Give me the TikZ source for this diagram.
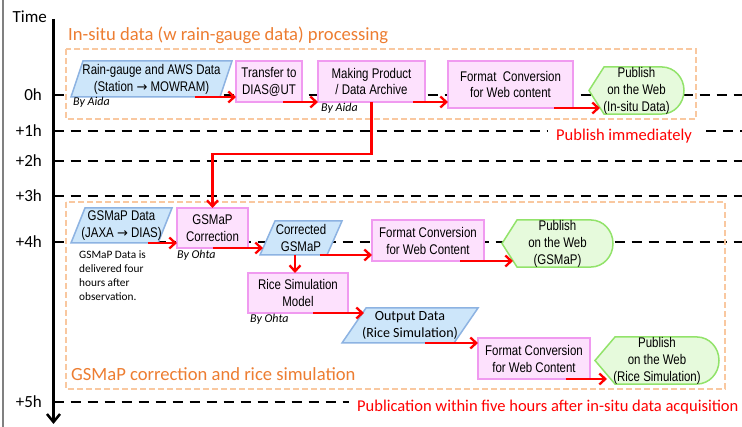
\documentclass[tikz,border=0pt]{standalone}
\usepackage{fontspec}
\setmainfont{Carlito}
\newfontfamily\narrow[FakeStretch=0.82]{Liberation Sans}
\newfontfamily\symfont{DejaVu Sans}
\usetikzlibrary{arrows.meta,calc}

\definecolor{parafill}{HTML}{CDE6FA}
\definecolor{paraline}{HTML}{8DB3E2}
\definecolor{procfill}{HTML}{FDE1FD}
\definecolor{procline}{HTML}{F09AF0}
\definecolor{pubfill}{HTML}{E6FADC}
\definecolor{publine}{HTML}{92E36A}
\definecolor{grpline}{HTML}{F9C8A0}
\definecolor{grptext}{HTML}{ED7D31}
\definecolor{framegray}{HTML}{808080}

\newcommand{\towards}{{\symfont\fontsize{13}{17}\selectfont →}}

% Shapes: a slanted data box and a "display" box (pointed left, rounded right)
\makeatletter
\newdimen\shpxa \newdimen\shpya \newdimen\shpxb \newdimen\shpyb
\newdimen\shpym \newdimen\shphh \newdimen\shpsl \newdimen\shprr
\pgfkeys{/pgf/para slant/.initial=12pt,/pgf/disp tip/.initial=15pt,/pgf/disp round/.initial=22pt}
\pgfdeclareshape{parabox}{%
  \inheritsavedanchors[from=rectangle]%
  \inheritanchorborder[from=rectangle]%
  \inheritanchor[from=rectangle]{center}%
  \inheritanchor[from=rectangle]{north}%
  \inheritanchor[from=rectangle]{south}%
  \inheritanchor[from=rectangle]{east}%
  \inheritanchor[from=rectangle]{west}%
  \inheritanchor[from=rectangle]{north east}%
  \inheritanchor[from=rectangle]{north west}%
  \inheritanchor[from=rectangle]{south east}%
  \inheritanchor[from=rectangle]{south west}%
  \backgroundpath{%
    \southwest \shpxa=\pgf@x \shpya=\pgf@y
    \northeast \shpxb=\pgf@x \shpyb=\pgf@y
    \pgfmathsetlength\shpsl{\pgfkeysvalueof{/pgf/para slant}}%
    \pgfpathmoveto{\pgfqpoint{\shpxa}{\shpya}}%
    \pgfpathlineto{\pgfpoint{\shpxb-\shpsl}{\shpya}}%
    \pgfpathlineto{\pgfqpoint{\shpxb}{\shpyb}}%
    \pgfpathlineto{\pgfpoint{\shpxa+\shpsl}{\shpyb}}%
    \pgfpathclose
  }%
}
\pgfdeclareshape{webdisplay}{%
  \inheritsavedanchors[from=rectangle]%
  \inheritanchorborder[from=rectangle]%
  \inheritanchor[from=rectangle]{center}%
  \inheritanchor[from=rectangle]{north}%
  \inheritanchor[from=rectangle]{south}%
  \inheritanchor[from=rectangle]{east}%
  \inheritanchor[from=rectangle]{west}%
  \inheritanchor[from=rectangle]{north east}%
  \inheritanchor[from=rectangle]{north west}%
  \inheritanchor[from=rectangle]{south east}%
  \inheritanchor[from=rectangle]{south west}%
  \backgroundpath{%
    \southwest \shpxa=\pgf@x \shpya=\pgf@y
    \northeast \shpxb=\pgf@x \shpyb=\pgf@y
    \shphh=\shpyb \advance\shphh by -\shpya \shphh=.5\shphh
    \shpym=\shpya \advance\shpym by \shphh
    \pgfmathsetlength\shpsl{\pgfkeysvalueof{/pgf/disp tip}}%
    \pgfmathsetlength\shprr{\pgfkeysvalueof{/pgf/disp round}}%
    \pgfpathmoveto{\pgfqpoint{\shpxa}{\shpym}}%
    \pgfpathlineto{\pgfpoint{\shpxa+\shpsl}{\shpyb}}%
    \pgfpathlineto{\pgfpoint{\shpxb-\shprr}{\shpyb}}%
    \pgfpathcurveto{\pgfpoint{\shpxb-0.4477*\shprr}{\shpyb}}{\pgfpoint{\shpxb}{\shpym+0.5523*\shphh}}{\pgfqpoint{\shpxb}{\shpym}}%
    \pgfpathcurveto{\pgfpoint{\shpxb}{\shpym-0.5523*\shphh}}{\pgfpoint{\shpxb-0.4477*\shprr}{\shpya}}{\pgfpoint{\shpxb-\shprr}{\shpya}}%
    \pgfpathlineto{\pgfpoint{\shpxa+\shpsl}{\shpya}}%
    \pgfpathclose
  }%
}
\makeatother

\tikzset{
  boxbase/.style={inner sep=0pt, outer sep=0pt, align=center, line width=1.5pt,
    font=\narrow\fontsize{14}{17}\selectfont},
  proc/.style={boxbase, rectangle, draw=procline, fill=procfill},
  datain/.style={boxbase, shape=parabox, draw=paraline, fill=parafill},
  pub/.style={boxbase, shape=webdisplay, draw=publine, fill=pubfill},
  flow/.style={draw=red, line width=2.3pt, -{Straight Barb[length=6pt,width=11pt]}},
  hourline/.style={line width=2pt, dash pattern=on 10pt off 7pt},
  group/.style={draw=grpline, line width=1.5pt, dash pattern=on 6pt off 3pt},
  grouptitle/.style={text=grptext, font=\fontsize{18.6}{21}\selectfont, inner sep=0pt, anchor=base west},
  author/.style={font=\itshape\fontsize{12}{14}\selectfont, inner sep=0pt, anchor=base west},
  hour/.style={font=\fontsize{17}{19}\selectfont, inner sep=0pt, anchor=base east},
  remark/.style={text=red, font=\fontsize{16.5}{19}\selectfont, inner sep=0pt, anchor=base west},
}

\begin{document}
\begin{tikzpicture}[x=1pt,y=-1pt]
\useasboundingbox (0,0) rectangle (742,427);
\fill[white] (0,0) rectangle (742,427);

% frame edge and time axis
\draw[framegray, line width=2pt] (2.5,0) -- (2.5,427);
\draw[line width=2.5pt, -{Straight Barb[length=8pt,width=13pt]}] (53.5,19) -- (53.5,424);
\node[font=\fontsize{17}{19}\selectfont, inner sep=0pt, anchor=base west] (time) at (12.5,23) {Time};

% hour marks
\node[hour] (h0) at (42,101) {0h};
\node[hour] (h1) at (42,137) {+1h};
\node[hour] (h2) at (42,167) {+2h};
\node[hour] (h3) at (42,202) {+3h};
\node[hour] (h4) at (42,247.5) {+4h};
\node[hour] (h5) at (42,407.5) {+5h};

\draw[hourline] (53.5,95.5) -- (742,95.5);
\draw[hourline] (53.5,131.5) -- (548,131.5);
\draw[hourline] (706,131.5) -- (742,131.5);
\draw[hourline] (53.5,161.5) -- (742,161.5);
\draw[hourline] (53.5,196.5) -- (742,196.5);
\draw[hourline] (53.5,242) -- (742,242);
\draw[hourline, line width=1.6pt] (53.5,402) -- (349,402);

% processing groups
\draw[group] (66,49) rectangle (696,119);
\draw[group] (66,202) rectangle (725,389);
\node[grouptitle] (t1) at (68,40.5) {In-situ data (w rain-gauge data) processing};
\node[grouptitle] (t2) at (71,381) {GSMaP correction and rice simulation};

% in-situ chain
\node[datain, minimum width=161pt, minimum height=36pt, para slant=12] (rg) at (151.5,79) {Rain-gauge and AWS Data\\(Station \towards{} MOWRAM)};
\node[proc, minimum width=66pt, minimum height=41pt] (tr) at (269,81.5) {Transfer to\\DIAS@UT};
\node[proc, minimum width=107pt, minimum height=41pt] (mp) at (371.5,81.5) {Making Product\\/ Data Archive};
\node[proc, minimum width=125pt, minimum height=47pt] (fc1) at (510.5,84.5) {Format\ \ Conversion\\for Web content};
\node[pub, minimum width=95pt, minimum height=47pt] (pub1) at (636.5,90.5) {Publish\\on the Web\\(In-situ Data)};

% GSMaP chain
\node[datain, minimum width=101pt, minimum height=35pt, para slant=14] (gd) at (121.5,225.5) {GSMaP Data\\(JAXA \towards{} DIAS)};
\node[proc, minimum width=71pt, minimum height=40pt] (gc) at (212.5,228) {GSMaP\\Correction};
\node[datain, minimum width=82pt, minimum height=34pt, para slant=15] (cg) at (301,238) {Corrected\\GSMaP};
\node[proc, minimum width=112pt, minimum height=41pt] (fc2) at (428,240.5) {Format Conversion\\for Web Content};
\node[pub, minimum width=111pt, minimum height=47pt] (pub2) at (557.5,243.5) {Publish\\on the Web\\(GSMaP)};
\node[proc, minimum width=100pt, minimum height=40pt] (rs) at (298,293) {Rice Simulation\\Model};
\node[datain, minimum width=136pt, minimum height=35pt, para slant=24, font=\fontsize{14}{16.5}\selectfont] (od) at (410,325.5) {Output Data\\(Rice Simulation)};
\node[proc, minimum width=112pt, minimum height=41pt] (fc3) at (534,358.5) {Format Conversion\\for Web Content};
\node[pub, minimum width=124pt, minimum height=47pt, disp tip=20] (pub3) at (657,360.5) {Publish\\on the Web\\(Rice Simulation)};

% annotations
\node[author] (a1) at (73,105.5) {By Aida};
\node[author] (a2) at (321,112) {By Aida};
\node[author] (a3) at (177,259) {By Ohta};
\node[author] (a4) at (250,323) {By Ohta};
\node[font=\fontsize{11.3}{14}\selectfont, align=left, anchor=north west, inner sep=0pt] (note) at (79,251) {GSMaP Data is\\delivered four\\hours after\\observation.};
\node[remark] (r1) at (556,140.5) {Publish immediately};
\node[remark] (r2) at (357,412) {Publication within five hours after in-situ data acquisition};

% flow arrows
\coordinate (s1) at ([xshift=43.5pt]rg.south);
\draw[flow] (s1) -- (s1 -| tr.west);
\coordinate (s2) at ([xshift=14pt]tr.south);
\draw[flow] (s2) -- (s2 -| mp.west);
\coordinate (s3) at ([xshift=41.5pt]mp.south);
\draw[flow] (s3) -- (s3 -| fc1.west);
\coordinate (s4) at ([xshift=43.5pt]fc1.south);
\draw[flow] (s4) -- ($(s4 -| pub1.west)+(11,0)$);
\draw[flow] (mp.south) -- ++(0,52) -| (gc.north);
\coordinate (s6) at ([xshift=26.5pt]gd.south);
\draw[flow] (s6) -- (s6 -| gc.west);
\draw[flow] (gc.south) -- ($(gc.south -| cg.west)+(3,0)$);
\coordinate (s8) at ([xshift=19pt]cg.south);
\draw[flow] (s8) -- (s8 -| fc2.west);
\coordinate (s9) at ([xshift=-6pt]cg.south);
\draw[flow] (s9) -- (s9 |- rs.north);
\coordinate (s10) at ([xshift=32pt]fc2.south);
\draw[flow] (s10) -- ($(s10 -| pub2.west)+(11,0)$);
\coordinate (s11) at ([xshift=15pt]rs.south);
\draw[flow] (s11) -- ($(s11 -| od.west)+(22,0)$);
\coordinate (s12) at ([xshift=15pt]od.south);
\draw[flow] (s12) -- (s12 -| fc3.west);
\coordinate (s13) at ([xshift=32pt]fc3.south);
\draw[flow] (s13) -- ($(s13 -| pub3.west)+(12,0)$);
\end{tikzpicture}
\end{document}
